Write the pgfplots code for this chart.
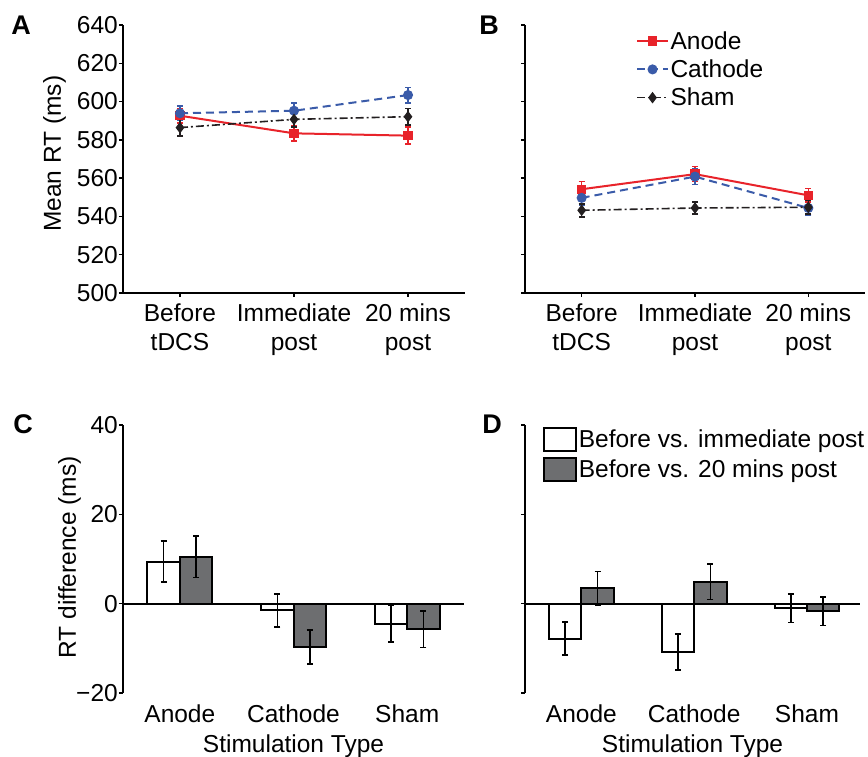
\documentclass[border=0pt]{standalone}
\usepackage{fontspec}
\setmainfont{Liberation Sans}
\usepackage{pgfplots}
\pgfplotsset{compat=1.18}
\definecolor{ARed}{HTML}{E8232A}
\definecolor{ABlue}{HTML}{3A5BA9}
\definecolor{ABlack}{HTML}{231F20}
\definecolor{BarGray}{HTML}{6D6E70}
\newcommand{\fs}{\fontsize{24.5}{29}\selectfont}

\pgfplotsset{
  panel/.style={scale only axis, height=268pt, font=\fs,
    /pgf/number format/assume math mode=true,
    tick label style={font=\fs}, label style={font=\fs},
    yticklabel style={inner sep=1pt},
    axis line style={line width=1.8pt,-},
    tick style={line width=1.4pt, black},
    tick align=outside, major tick length=4pt,
    xmin=0.5, xmax=3.5, xtick={1,2,3}, clip=false},
  linepanel/.style={panel, width=342pt,
    axis x line*=bottom, axis y line*=left,
    ymin=500, ymax=640, ytick={500,520,...,640},
    xticklabels={{Before\\tDCS},{Immediate\\post},{20 mins\\post}},
    xticklabel style={align=center, yshift=-3pt}},
  barpanel/.style={panel, width=341pt,
    ybar=0pt, bar width=32.4pt,
    axis x line*=bottom, axis y line*=left,
    x axis line style={draw=none}, xtick style={draw=none},
    ymin=-20, ymax=40, ytick={-20,0,20,40},
    extra y ticks={0}, extra y tick labels={},
    extra y tick style={grid=major, major grid style={black, line width=1.8pt}},
    xticklabel style={yshift=-4pt},
    xticklabels={Anode,Cathode,Sham}, xlabel={Stimulation Type},
    xlabel style={yshift=-5pt}},
  errs/.style={error bars/.cd, y dir=both, y explicit,
    error bar style={line width=1.6pt, solid},
    error mark options={rotate=90, mark size=3pt, line width=1.6pt, solid},
    /pgfplots/.cd},
  anode/.style={ARed, line width=2pt, mark=square*, mark size=3.7pt,
    mark options={solid}, errs},
  cathode/.style={ABlue, line width=2pt, dash pattern=on 8pt off 5pt,
    mark=*, mark size=4pt, mark options={solid}, errs},
  sham/.style={ABlack, line width=1.6pt,
    dash pattern=on 8pt off 3pt on 2pt off 3pt,
    mark=diamond*, mark size=4.5pt, mark options={solid}, errs},
  whitebar/.style={fill=white, draw=black, line width=2pt,
    legend image code/.code={\draw[fill=white,draw=black,line width=2pt]
      (0pt,-11.5pt) rectangle (32pt,11.5pt);}, errs},
  graybar/.style={fill=BarGray, draw=black, line width=2pt,
    legend image code/.code={\draw[fill=BarGray,draw=black,line width=2pt]
      (0pt,-11.5pt) rectangle (32pt,11.5pt);}, errs}
}

\begin{document}
\begin{tikzpicture}[x=1pt,y=1pt]
\useasboundingbox (0,0) rectangle (868,757);
\coordinate (pA) at (123,464);
\coordinate (pB) at (525,464);
\coordinate (pC) at (123,64);
\coordinate (pD) at (525,64);

% A: mean RT per session
\begin{axis}[linepanel, at={(pA)}, anchor=south west,
  ylabel={Mean RT (ms)},
  ylabel style={at={(axis description cs:-0.2,0.52)}, anchor=center}]
\addplot[anode] coordinates {(1,592.6) +- (0,3.8) (2,583.4) +- (0,4.1) (3,582.2) +- (0,4.5)};
\addplot[cathode] coordinates {(1,593.9) +- (0,3.8) (2,595.2) +- (0,3.9) (3,603.4) +- (0,4.0)};
\addplot[sham] coordinates {(1,586.4) +- (0,4.3) (2,590.7) +- (0,4.0) (3,592.1) +- (0,4.2)};
\end{axis}

% B
\begin{axis}[linepanel, width=340pt, at={(pB)}, anchor=south west,
  yticklabels={},
  legend cell align=left,
  legend style={at={(axis description cs:0.326,0.982)}, anchor=north west,
    draw=none, fill=none, inner sep=0pt, row sep=6pt, font=\fs,
    nodes={inner sep=1.5pt}},
  legend image code/.code={\draw[mark repeat=2,mark phase=2,#1]
    plot coordinates {(0pt,0pt) (15.5pt,0pt) (31pt,0pt)};}]
\addplot[anode] coordinates {(1,554.2) +- (0,4.0) (2,562.1) +- (0,3.9) (3,551.0) +- (0,3.5)};
\addlegendentry{Anode}
\addplot[cathode] coordinates {(1,549.7) +- (0,3.6) (2,560.8) +- (0,4.2) (3,544.4) +- (0,3.9)};
\addlegendentry{Cathode}
\addplot[sham] coordinates {(1,543.2) +- (0,3.4) (2,544.4) +- (0,3.0) (3,544.8) +- (0,3.5)};
\addlegendentry{Sham}
\end{axis}

% C: RT differences
\begin{axis}[barpanel, at={(pC)}, anchor=south west,
  yticklabels={−20,0,20,40},
  ylabel={RT difference (ms)},
  ylabel style={at={(axis description cs:-0.157,0.506)}, anchor=center}]
\addplot[whitebar] coordinates {(1,9.4) +- (0,4.6) (2,-1.5) +- (0,3.7) (3,-4.5) +- (0,4.1)};
\addplot[graybar] coordinates {(1,10.5) +- (0,4.6) (2,-9.7) +- (0,3.8) (3,-5.75) +- (0,4.1)};
\end{axis}

% D
\begin{axis}[barpanel, width=335pt, xmax=3.47, at={(pD)}, anchor=south west,
  yticklabels={},
  legend cell align=left,
  legend style={at={(axis description cs:0.054,0.993)}, anchor=north west,
    draw=none, fill=none, inner sep=0pt, row sep=5pt, font=\fs,
    nodes={inner sep=1.5pt}}]
\addplot[whitebar] coordinates {(1,-7.8) +- (0,3.7) (2,-10.8) +- (0,4.0) (3,-1.05) +- (0,3.2)};
\addlegendentry{Before vs. immediate post}
\addplot[graybar] coordinates {(1,3.4) +- (0,3.8) (2,4.9) +- (0,4.0) (3,-1.7) +- (0,3.2)};
\addlegendentry{Before vs. 20 mins post}
\end{axis}

\begin{scope}[font=\bfseries\fontsize{27}{27}\selectfont]
\node at (21,732) {A};
\node at (489,732) {B};
\node at (23,333) {C};
\node at (492,333) {D};
\end{scope}
\end{tikzpicture}
\end{document}
